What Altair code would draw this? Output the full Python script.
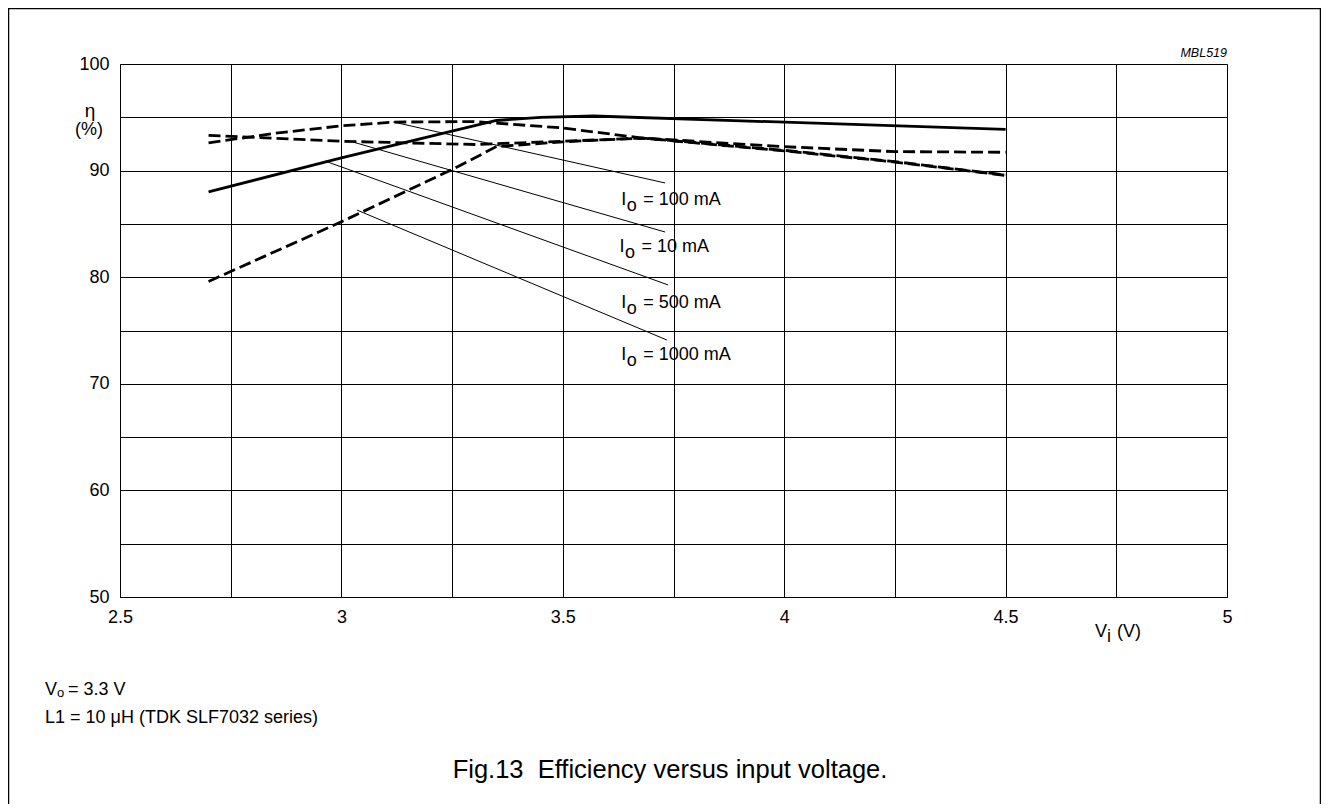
import altair as alt
import pandas as pd

# ---- data ----
V_10 = [2.7, 3.0, 3.3, 3.5, 3.68, 4.0, 4.25, 4.5]
E_10 = [93.3, 92.75, 92.45, 92.75, 93.05, 91.9, 90.84, 89.59]

V_100 = [2.7, 2.85, 3.0, 3.12, 3.3, 3.5, 3.68, 4.0, 4.25, 4.5]
E_100 = [92.6, 93.5, 94.2, 94.55, 94.6, 94.0, 93.05, 92.24, 91.78, 91.72]

V_500 = [2.7, 3.0, 3.35, 3.45, 3.57, 4.5]
E_500 = [88.0, 91.2, 94.7, 95.0, 95.12, 93.87]

V_1000 = [2.7, 3.0, 3.25, 3.35, 3.5, 3.68, 4.0, 4.25, 4.5]
E_1000 = [79.6, 85.2, 90.1, 92.25, 92.7, 93.05, 91.85, 90.8, 89.55]

LABELS = ["100 mA", "10 mA", "500 mA", "1000 mA"]
LEAD_X1 = [3.117, 3.026, 2.963, 3.035]
LEAD_Y1 = [94.56, 92.68, 90.90, 86.30]
LEAD_X2 = [3.731, 3.731, 3.738, 3.735]
LEAD_Y2 = [88.84, 84.24, 79.27, 74.11]
LABEL_X = [3.632, 3.628, 3.632, 3.632]
LABEL_Y = [86.77, 82.36, 77.11, 72.23]

X_GRID = [2.5, 2.75, 3.0, 3.25, 3.5, 3.75, 4.0, 4.25, 4.5, 4.75, 5.0]
Y_GRID = [50, 55, 60, 65, 70, 75, 80, 85, 90, 95, 100]

FONT = "Liberation Sans"
W, H = 1107, 533

rows = []
for name, style, vs, es in [("10 mA", "dash", V_10, E_10),
                             ("100 mA", "dash", V_100, E_100),
                             ("500 mA", "solid", V_500, E_500),
                             ("1000 mA", "dash", V_1000, E_1000)]:
    for v, e in zip(vs, es):
        rows.append({"series": name, "style": style, "v": v, "e": e})
curves = pd.DataFrame(rows)

leaders = pd.DataFrame({"x1": LEAD_X1, "y1": LEAD_Y1, "x2": LEAD_X2, "y2": LEAD_Y2})
labels = pd.DataFrame({"lx": LABEL_X, "ly": LABEL_Y,
                       "t": ["= " + s for s in LABELS]})

xs = alt.Scale(domain=[2.5, 5], nice=False, zero=False)
ys = alt.Scale(domain=[50, 100], nice=False, zero=False)

common = dict(title=None, grid=True, gridColor="black", gridOpacity=1, gridWidth=1,
              ticks=False, domainColor="black", labelFlush=False,
              labelOverlap=False, labelPadding=11, labelFontSize=18,
              labelFont=FONT, labelColor="black")
xaxis = alt.Axis(values=X_GRID,
                 labelExpr="datum.value % 0.5 == 0 ? format(datum.value, '~r') : ''",
                 **common)
yaxis = alt.Axis(values=Y_GRID,
                 labelExpr="datum.value % 10 == 0 ? format(datum.value, 'd') : ''",
                 **common)

def X(f):
    return alt.X(f, scale=xs, axis=xaxis)

def Y(f):
    return alt.Y(f, scale=ys, axis=yaxis)

solid = alt.Chart(curves).transform_filter("datum.style == 'solid'").mark_line(
    color="black", strokeWidth=2.8).encode(x=X("v:Q"), y=Y("e:Q"), detail="series:N")
dashed = alt.Chart(curves).transform_filter("datum.style == 'dash'").mark_line(
    color="black", strokeWidth=2.8, strokeDash=[12, 5]).encode(
    x=X("v:Q"), y=Y("e:Q"), detail="series:N")

lead = alt.Chart(leaders).mark_rule(color="black", strokeWidth=1).encode(
    x=X("x1:Q"), y=Y("y1:Q"), x2="x2:Q", y2="y2:Q")

lab_I = alt.Chart(labels).mark_text(align="left", baseline="alphabetic", fontSize=18,
                                    font=FONT, color="black").encode(
    x=X("lx:Q"), y=Y("ly:Q"), text=alt.value("I"))
lab_o = alt.Chart(labels).mark_text(align="left", baseline="alphabetic", fontSize=18,
                                    font=FONT, color="black", dx=5.5, dy=5.5).encode(
    x=X("lx:Q"), y=Y("ly:Q"), text=alt.value("o"))
lab_r = alt.Chart(labels).mark_text(align="left", baseline="alphabetic", fontSize=18,
                                    font=FONT, color="black", dx=22).encode(
    x=X("lx:Q"), y=Y("ly:Q"), text="t:N")

one = pd.DataFrame({"k": [0]})

def txt(s, x, y, size=18, align="left", style="normal"):
    return alt.Chart(one).mark_text(align=align, baseline="alphabetic", fontSize=size,
                                    font=FONT, color="black", fontStyle=style).encode(
        x=alt.value(x), y=alt.value(y), text=alt.value(s))

annots = [
    txt("η", -30, 53, size=19, align="center"),
    txt("(%)", -31, 71, align="center"),
    txt("MBL519", 1107, -7, size=12.5, align="right", style="italic"),
    txt("V", 975, 573),
    txt("i", 987, 578),
    txt("(V)", 997, 573),
    txt("V", -75, 631),
    txt("o", -63, 633, size=13),
    txt("= 3.3 V", -52, 631),
    txt("L1 = 10 μH (TDK SLF7032 series)", -75, 658.5),
    txt("Fig.13\u00a0 Efficiency versus input voltage.", 550, 714, size=25.5, align="center"),
]

frame = alt.Chart(one).mark_rect(fillOpacity=0, stroke="black", strokeWidth=1.5).encode(
    x=alt.value(-111.5), x2=alt.value(1200.5), y=alt.value(-55.5), y2=alt.value(900))

chart = alt.layer(solid, dashed, lead, lab_I, lab_o, lab_r, *annots, frame).properties(
    width=W, height=H,
    autosize=alt.AutoSizeParams(type="none"),
    padding={"left": 112, "top": 56, "right": 94, "bottom": 207},
).configure_view(stroke=None)

chart.save("out.html", embed_options={"renderer": "svg", "actions": False})
